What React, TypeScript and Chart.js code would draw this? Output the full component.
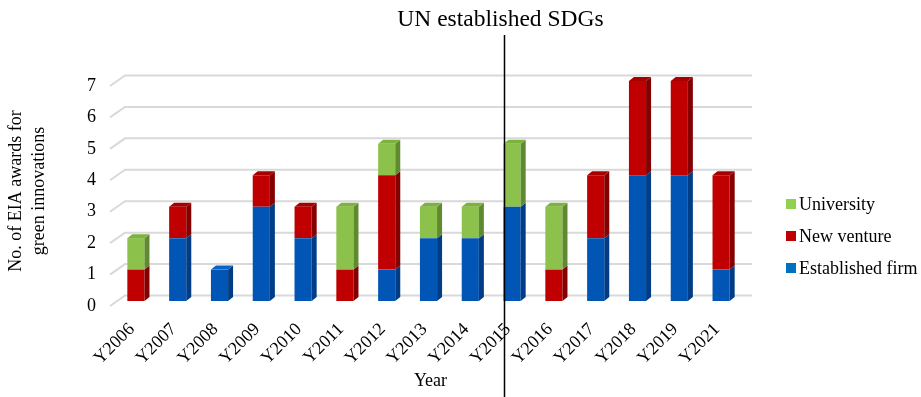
import React, { useEffect, useRef } from 'react';
import { Chart, registerables } from 'chart.js';

Chart.register(...registerables);

const categories = ['Y2006', 'Y2007', 'Y2008', 'Y2009', 'Y2010', 'Y2011', 'Y2012', 'Y2013', 'Y2014', 'Y2015', 'Y2016', 'Y2017', 'Y2018', 'Y2019', 'Y2021'];
const establishedFirm = [0, 2, 1, 3, 2, 0, 1, 2, 2, 3, 0, 2, 4, 4, 1];
const newVenture = [1, 1, 0, 1, 1, 1, 3, 0, 0, 0, 1, 2, 3, 3, 3];
const university = [1, 0, 0, 0, 0, 2, 1, 1, 1, 2, 2, 0, 0, 0, 0];
const seriesLabels = ['Established firm', 'New venture', 'University'];
const yTicks = [0, 1, 2, 3, 4, 5, 6, 7];
const title = 'UN established SDGs';
const sdgIndex = 9; // Y2015
const xTitle = 'Year';
const yTitle = ['No. of EIA awards for', 'green innovations'];

const FONT = "'Liberation Serif', 'Times New Roman', serif";
const frontColors = ['#0055B5', '#C00000', '#8CC24C'];
const sideColors = ['#003D86', '#850000', '#5F8A30'];
const topColors = ['#0A64C8', '#A80000', '#7DB23E'];
const legendColors = ['#0070C0', '#C00000', '#92D050'];

export default function App() {
  const ref = useRef<HTMLCanvasElement>(null);

  useEffect(() => {
    const canvas = ref.current!;
    const DX = 5;
    const DY = 4;

    const plugin = {
      id: 'custom3d',
      beforeDatasetsDraw(chart: any) {
        const ctx = chart.ctx;
        const ys = chart.scales.y;
        const area = chart.chartArea;
        ctx.save();
        ctx.strokeStyle = '#D9D9D9';
        ctx.lineWidth = 2;
        for (const t of ys.ticks) {
          const py = ys.getPixelForValue(t.value);
          ctx.beginPath();
          ctx.moveTo(area.left - 5, py + 5);
          ctx.lineTo(area.left + 10, py - 5.5);
          ctx.lineTo(area.right + 10, py - 5.5);
          ctx.stroke();
        }
        ctx.restore();
      },
      afterDatasetsDraw(chart: any) {
        const ctx = chart.ctx;
        const n = chart.data.labels.length;
        ctx.save();
        for (let i = 0; i < n; i++) {
          let topEl: any = null;
          let topDs = -1;
          chart.data.datasets.forEach((ds: any, d: number) => {
            const v = ds.data[i];
            if (!v) return;
            const el = chart.getDatasetMeta(d).data[i];
            const { x, y, base, width } = el.getProps(['x', 'y', 'base', 'width'], true);
            const right = x + width / 2;
            const top = Math.min(y, base);
            const bottom = Math.max(y, base);
            ctx.fillStyle = sideColors[d];
            ctx.beginPath();
            ctx.moveTo(right, bottom);
            ctx.lineTo(right + DX, bottom - DY);
            ctx.lineTo(right + DX, top - DY);
            ctx.lineTo(right, top);
            ctx.closePath();
            ctx.fill();
            topEl = { x, top, width };
            topDs = d;
          });
          if (topEl) {
            const left = topEl.x - topEl.width / 2;
            const right = topEl.x + topEl.width / 2;
            ctx.fillStyle = topColors[topDs];
            ctx.beginPath();
            ctx.moveTo(left, topEl.top);
            ctx.lineTo(left + DX, topEl.top - DY);
            ctx.lineTo(right + DX, topEl.top - DY);
            ctx.lineTo(right, topEl.top);
            ctx.closePath();
            ctx.fill();
          }
        }
        ctx.restore();
      },
      afterDraw(chart: any) {
        const ctx = chart.ctx;
        const area = chart.chartArea;
        const xs = chart.scales.x;
        ctx.save();
        // SDG line
        const el = chart.getDatasetMeta(0).data[sdgIndex];
        const lx = Math.round(xs.getPixelForValue(sdgIndex) - el.width / 2) + 0.5;
        ctx.strokeStyle = '#000';
        ctx.lineWidth = 1.5;
        ctx.beginPath();
        ctx.moveTo(lx, 35);
        ctx.lineTo(lx, chart.height);
        ctx.stroke();
        // Title
        ctx.fillStyle = '#000';
        ctx.font = `23.5px ${FONT}`;
        ctx.textAlign = 'center';
        ctx.textBaseline = 'middle';
        ctx.fillText(title, lx - 4, 20);
        // X title
        ctx.font = `18px ${FONT}`;
        ctx.fillText(xTitle, (area.left + area.right) / 2 + 2, 381);
        // Y title
        ctx.font = `18px ${FONT}`;
        ctx.translate(0, (area.top + area.bottom) / 2);
        ctx.rotate(-Math.PI / 2);
        ctx.fillText(yTitle[0], 0, 16);
        ctx.fillText(yTitle[1], 0, 39);
        ctx.setTransform(1, 0, 0, 1, 0, 0);
        // Legend
        const dsets = chart.data.datasets;
        ctx.font = `18px ${FONT}`;
        ctx.textAlign = 'left';
        const order = [2, 1, 0];
        order.forEach((d, k) => {
          const cy = 204 + k * 32;
          ctx.fillStyle = legendColors[d];
          ctx.fillRect(786, cy - 5, 10, 10);
          ctx.fillStyle = '#000';
          ctx.fillText(dsets[d].label, 799, cy + 1);
        });
        ctx.restore();
      },
    };

    const chart = new Chart(canvas, {
      type: 'bar',
      data: {
        labels: categories,
        datasets: [
          { label: seriesLabels[0], data: establishedFirm, backgroundColor: frontColors[0] },
          { label: seriesLabels[1], data: newVenture, backgroundColor: frontColors[1] },
          { label: seriesLabels[2], data: university, backgroundColor: frontColors[2] },
        ],
      },
      options: {
        animation: false,
        responsive: false,
        devicePixelRatio: 1,
        layout: { padding: { left: 0, right: 179, top: 81, bottom: 0 } },
        plugins: { legend: { display: false }, tooltip: { enabled: false }, title: { display: false } },
        datasets: { bar: { categoryPercentage: 1, barPercentage: 0.41 } },
        scales: {
          x: {
            stacked: true,
            grid: { display: false, drawTicks: false },
            border: { display: false },
            ticks: {
              minRotation: 45,
              maxRotation: 45,
              autoSkip: false,
              padding: 18,
              labelOffset: -4,
              color: '#000',
              font: { family: FONT, size: 18 },
            },
            afterFit: (s: any) => { s.height = 96; },
          },
          y: {
            stacked: true,
            min: 0,
            max: 7,
            afterBuildTicks: (s: any) => { s.ticks = yTicks.map((v) => ({ value: v })); },
            grid: { display: false, drawTicks: false },
            border: { display: false },
            ticks: {
              padding: 19,
              labelOffset: 5,
              color: '#000',
              font: { family: FONT, size: 18 },
            },
            afterFit: (s: any) => { s.width = 115; },
          },
        },
      },
      plugins: [plugin],
    });
    return () => chart.destroy();
  }, []);

  return (
    <div style={{ position: 'absolute', left: 0, top: 0, width: 921, height: 397, background: '#fff' }}>
      <canvas ref={ref} width={921} height={397} />
    </div>
  );
}
